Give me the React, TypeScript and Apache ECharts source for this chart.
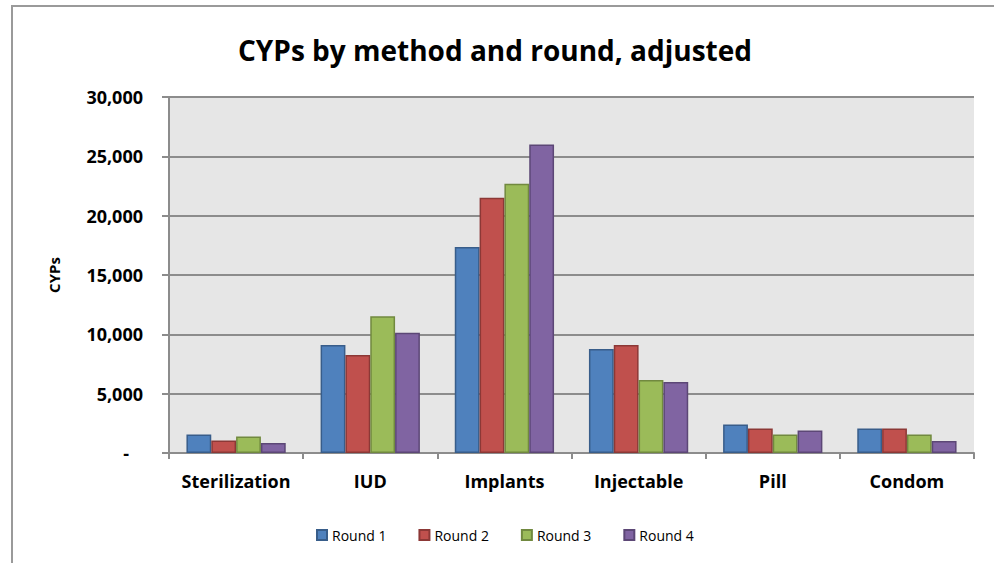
import React, { useEffect, useRef } from "react";
import * as echarts from "echarts";

const categories = ["Sterilization", "IUD", "Implants", "Injectable", "Pill", "Condom"];
const seriesNames = ["Round 1", "Round 2", "Round 3", "Round 4"];
const round1 = [1560, 9100, 17370, 8760, 2400, 2070];
const round2 = [1050, 8250, 21520, 9100, 2070, 2070];
const round3 = [1390, 11530, 22690, 6160, 1560, 1560];
const round4 = [850, 10140, 25990, 5990, 1900, 1020];
const fills = ["#4F81BD", "#C0504D", "#9BBB59", "#8064A2"];
const borders = ["#385D8A", "#8C3836", "#71893F", "#5C4776"];
const titleText = "CYPs by method and round, adjusted";
const yAxisTitle = "CYPs";

const FONT = "'Open Sans', 'Noto Sans', sans-serif";

export default function App() {
  const ref = useRef<HTMLDivElement>(null);
  useEffect(() => {
    if (!ref.current) return;
    const chart = echarts.init(ref.current, null, { renderer: "svg" });
    const data = [round1, round2, round3, round4];
    chart.setOption({
      animation: false,
      backgroundColor: "#ffffff",
      textStyle: { fontFamily: FONT },
      title: {
        text: titleText,
        left: 490,
        top: 31,
        textAlign: "center",
        textStyle: { fontFamily: FONT, fontWeight: "bold", fontSize: 28, color: "#000" },
      },
      legend: {
        data: seriesNames,
        left: 311,
        top: 523,
        itemWidth: 10,
        itemHeight: 10,
        itemGap: 32,
        icon: "rect",
        textStyle: { fontFamily: FONT, fontSize: 14, color: "#000" },
      },
      graphic: [
        {
          type: "line",
          shape: { x1: 11, y1: 6, x2: 994, y2: 6 },
          style: { stroke: "#9a9a9a", lineWidth: 2 },
          silent: true,
        },
        {
          type: "line",
          shape: { x1: 12, y1: 5, x2: 12, y2: 563 },
          style: { stroke: "#9a9a9a", lineWidth: 2 },
          silent: true,
        },
      ],
      grid: {
        left: 169,
        right: 20,
        top: 97,
        bottom: 110,
        show: true,
        backgroundColor: "#E6E6E6",
        borderWidth: 0,
      },
      xAxis: {
        type: "category",
        data: categories,
        boundaryGap: true,
        axisLine: { show: true, lineStyle: { color: "#8c8c8c", width: 2 } },
        axisTick: { show: true, interval: 0, length: 6, lineStyle: { color: "#8c8c8c", width: 2 } },
        axisLabel: {
          interval: 0,
          margin: 19,
          fontFamily: FONT,
          fontWeight: "bold",
          fontSize: 18,
          color: "#000",
        },
      },
      yAxis: {
        type: "value",
        min: 0,
        max: 30000,
        interval: 5000,
        name: yAxisTitle,
        nameLocation: "middle",
        nameGap: 108,
        nameTextStyle: { fontFamily: FONT, fontWeight: "bold", fontSize: 15, color: "#000" },
        axisLine: { show: true, lineStyle: { color: "#8c8c8c", width: 2 } },
        axisTick: { show: true, length: 7, lineStyle: { color: "#8c8c8c", width: 2 } },
        splitLine: { show: true, lineStyle: { color: "#8c8c8c", width: 2 } },
        axisLabel: {
          margin: 26,
          fontFamily: FONT,
          fontWeight: "bold",
          fontSize: 18,
          color: "#000",
          formatter: (v: number) => (v === 0 ? "-   " : v.toLocaleString("en-US")),
        },
      },
      series: seriesNames.map((name, i) => ({
        name,
        type: "bar",
        data: data[i],
        barGap: "0%",
        barCategoryGap: "26%",
        itemStyle: { color: fills[i], borderColor: borders[i], borderWidth: 1.5 },
      })),
    });
    return () => chart.dispose();
  }, []);
  return (
    <div
      ref={ref}
      style={{ position: "fixed", left: 0, top: 0, width: 994, height: 563 }}
    />
  );
}
